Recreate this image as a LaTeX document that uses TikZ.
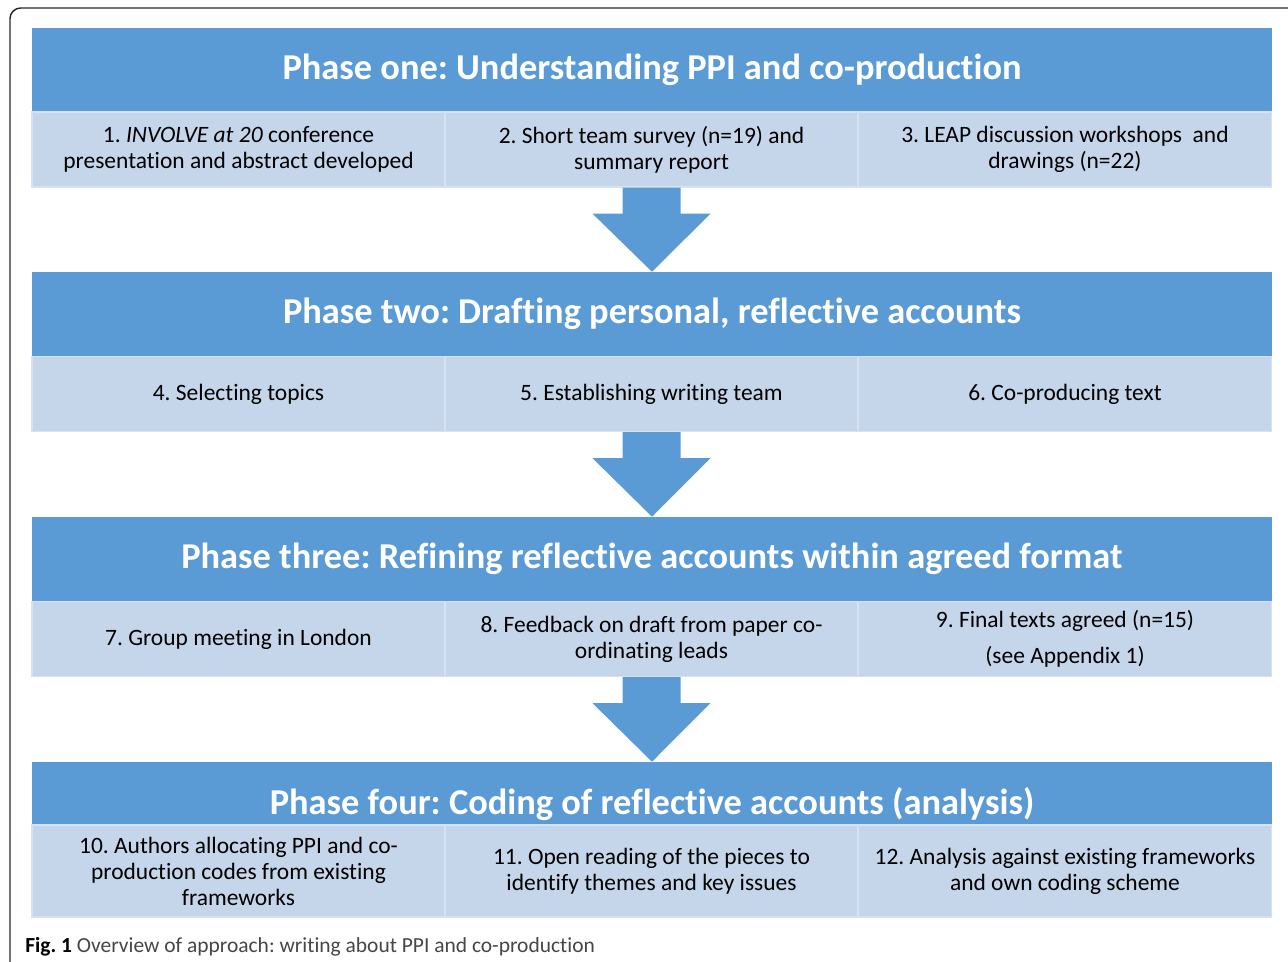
\documentclass[tikz,border=0pt]{standalone}
\usepackage{fontspec}
\setmainfont{Carlito}[Ligatures=NoCommon]
\usetikzlibrary{calc}
\frenchspacing

\definecolor{phaseblue}{RGB}{91,155,213}
\definecolor{steplight}{RGB}{197,214,235}
\definecolor{stepedge}{RGB}{214,226,242}
\definecolor{framegrey}{RGB}{40,40,40}
\definecolor{captiongrey}{RGB}{70,70,70}

\begin{document}
\begin{tikzpicture}[x=0.75pt, y=-0.75pt,
  phasebar/.style={fill=phaseblue, inner sep=0pt, minimum width=930pt, minimum height=63pt,
    text=white, font=\fontsize{27.3}{32}\selectfont\bfseries},
  stepbox/.style={fill=steplight, draw=stepedge, line width=1pt, inner sep=0pt,
    minimum width=309.75pt, minimum height=56.25pt, align=center,
    font=\fontsize{17.6}{19.5}\selectfont},
  tallstep/.style={stepbox, minimum height=69pt},
  downarrow/.style={fill=phaseblue}]

\useasboundingbox (0,0) rectangle (1288,961);

% Outer frame
\begin{scope}
\clip (0,0) rectangle (1288,961);
\draw[framegrey, line width=1.1pt, rounded corners=8pt] (10,8) rectangle (1300,1000);
\end{scope}

% Phase one
\node[phasebar] (p1) at (652,70) {Phase one: Understanding PPI and co-production};
\node[stepbox] (s1a) at (238.5,149.5) {1. \textit{INVOLVE at 20} conference\\presentation and abstract developed};
\node[stepbox] (s1b) at (651.5,149.5) {2. Short team survey (n=19) and\\summary report};
\node[stepbox] (s1c) at (1065,149.5) {3. LEAP discussion workshops\ \ and\\drawings (n=22)};

% Phase two
\node[phasebar] (p2) at (652,314) {Phase two: Drafting personal, reflective accounts};
\node[stepbox] (s2a) at (238.5,394) {4. Selecting topics};
\node[stepbox] (s2b) at (651.5,394) {5. Establishing writing team};
\node[stepbox] (s2c) at (1065,394) {6. Co-producing text};

% Phase three
\node[phasebar] (p3) at (652,559) {Phase three: Refining reflective accounts within agreed format};
\node[stepbox] (s3a) at (238.5,639) {7. Group meeting in London};
\node[stepbox] (s3b) at (651.5,639) {8. Feedback on draft from paper co-\\ordinating leads};
\node[stepbox] (s3c) at (1065,639) {9. Final texts agreed (n=15)\\[7.5pt](see Appendix 1)};

% Phase four
\node[phasebar] (p4) at (652,804) {Phase four: Coding of reflective accounts (analysis)};
\node[tallstep] (s4a) at (238.5,871) {10. Authors allocating PPI and co-\\production codes from existing\\frameworks};
\node[tallstep] (s4b) at (651.5,871) {11. Open reading of the pieces to\\identify themes and key issues};
\node[tallstep] (s4c) at (1065,871) {12. Analysis against existing frameworks\\and own coding scheme};

% Arrows between phases
\fill[downarrow] ($(s1b.south)+(-29,0)$) -- ++(58,0) -- ++(0,26) -- ++(30,0) -- (p2.north)
  -- ($(s1b.south)+(-59,26)$) -- ++(30,0) -- cycle;
\fill[downarrow] ($(s2b.south)+(-29,0)$) -- ++(58,0) -- ++(0,26) -- ++(30,0) -- (p3.north)
  -- ($(s2b.south)+(-59,26)$) -- ++(30,0) -- cycle;
\fill[downarrow] ($(s3b.south)+(-29,0)$) -- ++(58,0) -- ++(0,26) -- ++(30,0) -- (p4.north)
  -- ($(s3b.south)+(-59,26)$) -- ++(30,0) -- cycle;

% Caption
\node[anchor=west, inner sep=0pt, text=captiongrey, font=\fontsize{16.1}{19}\selectfont] (cap) at (25,947)
  {\textcolor{black}{\textbf{Fig. 1}} Overview of approach: writing about PPI and co-production};

\end{tikzpicture}
\end{document}
